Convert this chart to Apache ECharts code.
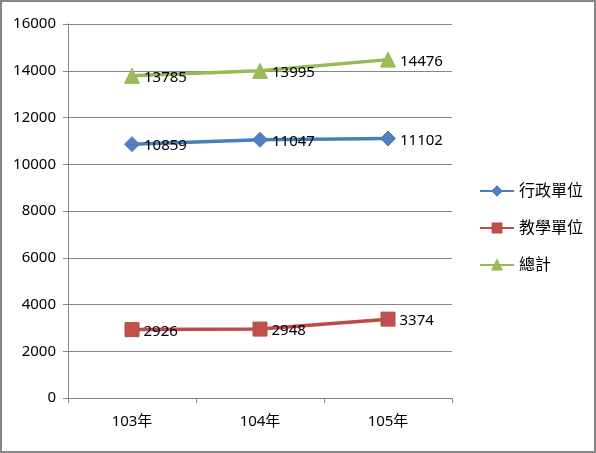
<!DOCTYPE html>
<html>
<head>
<meta charset="utf-8">
<script src="https://cdn.jsdelivr.net/npm/echarts@6/dist/echarts.min.js"></script>
<style>
  html, body { margin: 0; padding: 0; background: #fff; }
  #chart { width: 596px; height: 453px; box-sizing: border-box; border: 2px solid #868686; }
</style>
</head>
<body>
<div id="chart"></div>
<script>
// 年度
var years = ["103年", "104年", "105年"];
// 各系列人數
var xingzheng = [10859, 11047, 11102]; // 行政單位
var jiaoxue = [2926, 2948, 3374];      // 教學單位
var zongji = [13785, 13995, 14476];    // 總計
var seriesNames = ["行政單位", "教學單位", "總計"];

var fontFam = "'Noto Sans', 'Noto Sans CJK TC', sans-serif";

function makeSeries(name, data, symbol, size, lineColor, fillColor) {
  return {
    name: name,
    type: "line",
    data: data,
    symbol: symbol,
    symbolSize: size,
    showAllSymbol: true,
    lineStyle: { color: lineColor, width: 3.5 },
    itemStyle: { color: fillColor, borderColor: lineColor, borderWidth: 1 },
    label: { show: true, position: "right", distance: 4, color: "#000", fontSize: 15, fontFamily: fontFam, offset: [0, 2] },
    emphasis: { disabled: true },
    animation: false
  };
}

var myChart = echarts.init(document.getElementById("chart"));
var option = {
  animation: false,
  grid: { left: 66, right: 142, top: 22, bottom: 53 },
  legend: {
    orient: "vertical",
    left: 472,
    top: 176,
    itemGap: 21,
    itemWidth: 34,
    itemHeight: 11,
    textStyle: { fontSize: 16, color: "#000", fontFamily: fontFam },
    data: seriesNames
  },
  xAxis: {
    type: "category",
    data: years,
    boundaryGap: true,
    axisLine: { lineStyle: { color: "#868686", width: 1 } },
    axisTick: { show: true, inside: false, length: 5, lineStyle: { color: "#868686" } },
    axisLabel: { color: "#000", fontSize: 15, fontFamily: fontFam, margin: 16 }
  },
  yAxis: {
    type: "value",
    min: 0,
    max: 16000,
    interval: 2000,
    axisLine: { show: true, lineStyle: { color: "#868686", width: 1 } },
    axisTick: { show: true, length: 5, lineStyle: { color: "#868686" } },
    axisLabel: { color: "#000", fontSize: 15, fontFamily: fontFam, margin: 12, formatter: function (v) { return String(v); } },
    splitLine: { show: true, lineStyle: { color: "#868686", width: 1 } }
  },
  series: [
    makeSeries(seriesNames[0], xingzheng, "diamond", 15, "#4A7EBB", "#4F81BD"),
    makeSeries(seriesNames[1], jiaoxue, "rect", 14, "#BE4B48", "#C0504D"),
    makeSeries(seriesNames[2], zongji, "triangle", 15, "#98B954", "#9BBB59")
  ]
};
myChart.setOption(option);
window.addEventListener("resize", () => { myChart.resize(); });
</script>
</body>
</html>
